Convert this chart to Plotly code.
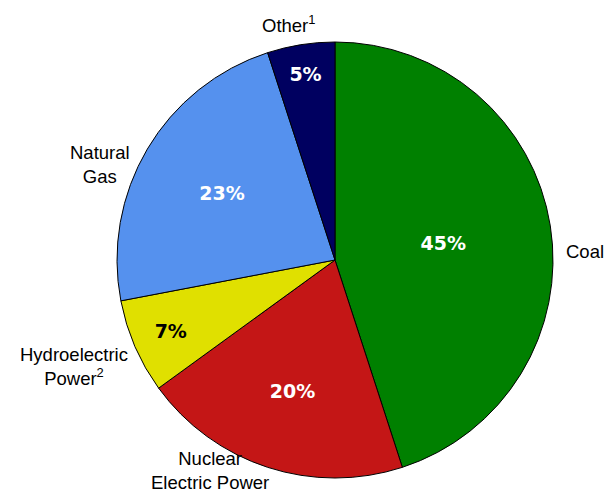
import plotly.graph_objects as go

sources = ["Coal", "Nuclear Electric Power", "Hydroelectric Power", "Natural Gas", "Other"]
shares = [45, 20, 7, 23, 5]
colors = ["#008000", "#C41616", "#E0E000", "#5591EE", "#000060"]
pct_colors = ["white", "white", "black", "white", "white"]

# outside labels (text, x px, y px, anchor)
label_text = ["Coal", "Nuclear<br>Electric Power", "Hydroelectric<br>Power<sup>2</sup>",
              "Natural<br>Gas", "Other<sup>1</sup>"]
label_pos = [(564, 252, "left"), (210, 470, "center"), (74, 366, "center"),
             (100, 165, "center"), (288, 24, "center")]

W, H = 607, 495
cx, cy, R = 335, 260, 218

fig = go.Figure()
fig.add_trace(go.Pie(
    labels=sources, values=shares, sort=False, direction="clockwise", rotation=0,
    marker=dict(colors=colors, line=dict(color="black", width=1)),
    texttemplate="%{value}%", textposition="inside", insidetextorientation="horizontal",
    insidetextfont=dict(family="DejaVu Sans", size=19, color=pct_colors, weight="bold"),
    showlegend=False, hoverinfo="label+percent",
    domain=dict(x=[(cx - R) / W, (cx + R) / W], y=[(H - cy - R) / H, (H - cy + R) / H]),
))

for t, (x, y, anc) in zip(label_text, label_pos):
    fig.add_annotation(x=x / W, y=1 - y / H, xref="paper", yref="paper", text=t,
                       showarrow=False, xanchor=anc, yanchor="middle",
                       font=dict(family="Liberation Sans, Arial", size=18.5, color="black"))

fig.update_layout(width=W, height=H, margin=dict(l=0, r=0, t=0, b=0),
                  paper_bgcolor="white", plot_bgcolor="white")
fig.write_html("out.html", config={"displayModeBar": False},
               post_script="document.body.style.margin='0';")
